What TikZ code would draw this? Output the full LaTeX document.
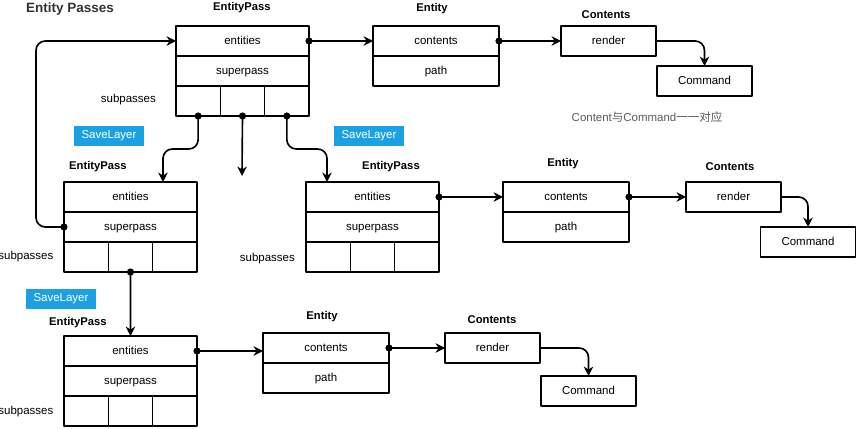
\documentclass[tikz,border=0pt]{standalone}
\usepackage{fontspec}
\setmainfont{Liberation Sans}
\newfontfamily\cjk{Noto Sans CJK SC}
\usepackage{xcolor}
\usetikzlibrary{arrows.meta,positioning,calc}
\definecolor{layerblue}{HTML}{1BA1E2}
\definecolor{notegray}{HTML}{5A5A5A}
\definecolor{headgray}{HTML}{333333}
\tikzset{
  every picture/.style={line join=round, line cap=round, >=Stealth},
  field/.style={draw, line width=1.4pt, outer sep=0pt, inner sep=0pt, minimum height=0.9cm, text height=7.6pt, text depth=2.2pt, font=\fontsize{9.8}{11}\selectfont},
  passfield/.style={field, minimum width=3.99cm},
  cell/.style={field, minimum width=1.33cm},
  entfield/.style={field, minimum width=3.78cm},
  smallbox/.style={field, minimum width=2.85cm},
  title/.style={font=\bfseries\fontsize{9.6}{11}\selectfont},
  lbl/.style={font=\fontsize{9.8}{11}\selectfont, anchor=east},
  layer/.style={fill=layerblue, text=white, inner sep=0pt, minimum width=2.1cm, minimum height=0.6cm, font=\fontsize{9.8}{11}\selectfont},
  link/.style={line width=1.4pt, {Circle[length=6pt]}-{Stealth[length=8pt,width=8pt,inset=2.5pt]}, shorten <=-3pt},
  plain/.style={line width=1.4pt, -{Stealth[length=8pt,width=8pt,inset=2.5pt]}},
}

\begin{document}
\begin{tikzpicture}[x=0.03cm,y=-0.03cm]
\useasboundingbox (0,0) rectangle (857,429);
\node[font=\bfseries\fontsize{11.5}{13}\selectfont, text=headgray, anchor=west] (head) at (22,9) {Entity Passes};

% EntityPass 1
\node[passfield] (p1e) at (242.5,41) {entities};
\node[passfield, below=0pt of p1e] (p1p) {superpass};
\node[cell, below right=0pt and 0pt of p1p.south west] (p1s1) {};
\node[cell, right=0pt of p1s1] (p1s2) {};
\node[cell, right=0pt of p1s2] (p1s3) {};
\node[title] (p1t) at (242,8) {EntityPass};
\node[lbl] (p1l) at (160,100) {subpasses};

% EntityPass 2
\node[passfield] (p2e) at (130.5,197) {entities};
\node[passfield, below=0pt of p2e] (p2p) {superpass};
\node[cell, below right=0pt and 0pt of p2p.south west] (p2s1) {};
\node[cell, right=0pt of p2s1] (p2s2) {};
\node[cell, right=0pt of p2s2] (p2s3) {};
\node[title] (p2t) at (98,167) {EntityPass};
\node[lbl] (p2l) at (57.5,257) {subpasses};

% EntityPass 3
\node[passfield] (p3e) at (372.5,197) {entities};
\node[passfield, below=0pt of p3e] (p3p) {superpass};
\node[cell, below right=0pt and 0pt of p3p.south west] (p3s1) {};
\node[cell, right=0pt of p3s1] (p3s2) {};
\node[cell, right=0pt of p3s2] (p3s3) {};
\node[title] (p3t) at (391,167) {EntityPass};
\node[lbl] (p3l) at (299,259) {subpasses};

% EntityPass 4
\node[passfield] (p4e) at (130.5,351) {entities};
\node[passfield, below=0pt of p4e] (p4p) {superpass};
\node[cell, below right=0pt and 0pt of p4p.south west] (p4s1) {};
\node[cell, right=0pt of p4s1] (p4s2) {};
\node[cell, right=0pt of p4s2] (p4s3) {};
\node[title] (p4t) at (78,323) {EntityPass};
\node[lbl] (p4l) at (57.5,412) {subpasses};

% Entity
\node[entfield] (e1c) at (436,41) {contents};
\node[entfield, below=0pt of e1c] (e1p) {path};
\node[title] (e1t) at (432,9) {Entity};
\node[entfield] (e2c) at (566,197) {contents};
\node[entfield, below=0pt of e2c] (e2p) {path};
\node[title] (e2t) at (563,164) {Entity};
\node[entfield] (e3c) at (326,348) {contents};
\node[entfield, below=0pt of e3c] (e3p) {path};
\node[title] (e3t) at (322,317) {Entity};

% Contents and Command
\node[smallbox] (c1) at (608.5,41) {render};
\node[title] (c1t) at (606,15) {Contents};
\node[smallbox] (m1) at (704.5,81) {Command};
\node[smallbox] (c2) at (733.5,197) {render};
\node[title] (c2t) at (730,167) {Contents};
\node[smallbox] (m2) at (808,242) {Command};
\node[smallbox] (c3) at (492.5,348) {render};
\node[title] (c3t) at (492,320) {Contents};
\node[smallbox] (m3) at (588.5,391) {Command};

\node[font=\fontsize{9.8}{11}\selectfont, text=notegray] (note) at (647,117) {Content{\cjk 与}Command{\cjk 一一对应}};

% SaveLayer tags
\node[layer] (sl1) at (109,136) {SaveLayer};
\node[layer] (sl2) at (369,136) {SaveLayer};
\node[layer] (sl3) at (61,299) {SaveLayer};

\coordinate (p2in) at ($(p2e.north west)+(99,0)$);
\coordinate (p3in) at ($(p3e.north west)+(21,0)$);
\coordinate (p1free) at (242,176);

\draw[link, rounded corners=8pt] (p1s1.south) -- ++(0,33) -| (p2in);
\draw[link] (p1s2.south) -- (p1free);
\draw[link, rounded corners=8pt] (p1s3.south) -- ++(0,33) -| (p3in);
\draw[link, rounded corners=8pt] (p2p.west) -- ++(-28,0) |- (p1e.west);
\draw[link] (p2s2.south) -- (p4e.north);

\draw[link] (p1e.east) -- (e1c.west);
\draw[link] (p3e.east) -- (e2c.west);
\draw[link] (p4e.east) -- (p4e.east -| e3c.west);
\draw[link] (e1c.east) -- (c1.west);
\draw[link] (e2c.east) -- (c2.west);
\draw[link] (e3c.east) -- (c3.west);

\draw[plain, rounded corners=8pt] (c1.east) -| (m1.north);
\draw[plain, rounded corners=8pt] (c2.east) -| (m2.north);
\draw[plain, rounded corners=8pt] (c3.east) -| (m3.north);
\end{tikzpicture}
\end{document}
